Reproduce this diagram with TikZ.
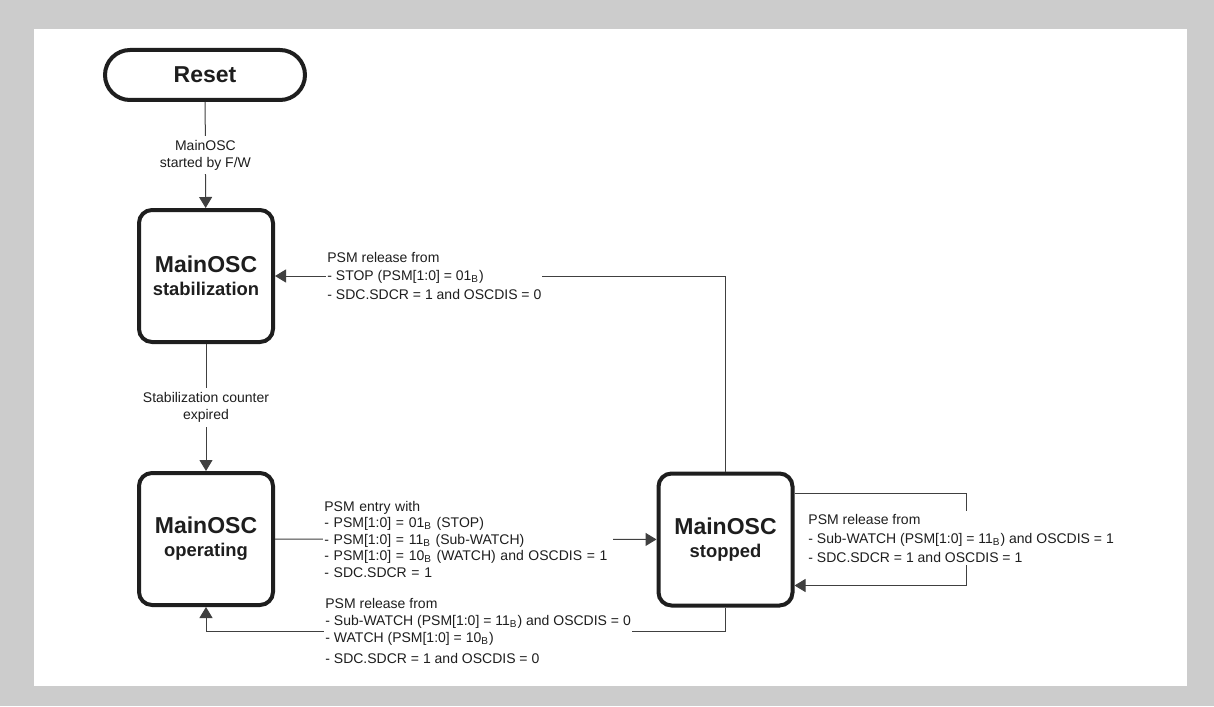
\documentclass[tikz,border=0pt]{standalone}
\usepackage{fontspec}
\setmainfont{Liberation Sans}
\usetikzlibrary{arrows.meta}
\definecolor{bggray}{HTML}{CCCCCC}
\definecolor{ink}{HTML}{1E1E1E}

\begin{document}
\begin{tikzpicture}[x=0.5pt, y=-0.5pt,
    state/.style={draw=ink, line width=2pt, rounded corners=6.5pt, minimum width=67pt,
      minimum height=66pt, align=center, inner sep=0pt, text=ink,
      font=\bfseries\fontsize{9.2}{11.5}\selectfont},
    conn/.style={draw=black!75, line width=0.5pt, -{Triangle[length=5.5pt, width=6.5pt]}},
    cond/.style={fill=white, font=\fontsize{7}{8.5}\selectfont, text=ink, inner xsep=0.5pt,
      inner ysep=1.5pt, align=left, anchor=west},
    mid/.style={fill=white, font=\fontsize{7}{8.5}\selectfont, text=ink, inner xsep=1pt,
      inner ysep=2pt, align=center}]
    % Fonas
    \fill[bggray] (0,0) rectangle (1214,706);
    \fill[white] (34,29) rectangle (1187,686);

    \node[state, rounded corners=12.5pt, minimum width=100pt, minimum height=25pt,
      font=\bfseries\fontsize{11.5}{13}\selectfont] (reset) at (205,75) {Reset};

    \foreach \n/\x/\y/\t in {stab/206/276/stabilization, oper/206/539/operating, stop/725.5/539.5/stopped} {
        \node[state] (\n) at (\x,\y) {{\fontsize{11.5}{13}\selectfont MainOSC}\\\t};
    }

    \draw[conn] (reset) -- (stab) node[mid, midway] {MainOSC\\started by F/W};
    \draw[conn] (stab) -- (oper) node[mid, midway] {Stabilization counter\\expired};

    % Iejimas i PSM
    \draw[conn] (oper) -- (stop);
    \node[cond, font=\fontsize{7}{8.25}\selectfont, text width=144pt] (entry) at (323,539)
        {PSM entry with\\- PSM[1:0] = 01\textsubscript{B} (STOP)\\- PSM[1:0] = 11\textsubscript{B} (Sub-WATCH)\\- PSM[1:0] = 10\textsubscript{B} (WATCH) and OSCDIS = 1\\- SDC.SDCR = 1};

    % Isejimas is PSM
    \draw[conn] (stop.north) |- (stab.east);
    \node[cond, font=\fontsize{7}{9.25}\selectfont] (relstab) at (326,275.5)
        {PSM release from\\- STOP (PSM[1:0] = 01\textsubscript{B})\\- SDC.SDCR = 1 and OSCDIS = 0};

    \draw[conn] (stop.south) -- ++(0,24) -| (oper.south);
    \node[cond] (reloper) at (324,630.5)
        {PSM release from\\- Sub-WATCH (PSM[1:0] = 11\textsubscript{B}) and OSCDIS = 0\\- WATCH (PSM[1:0] = 10\textsubscript{B})\\[2pt]- SDC.SDCR = 1 and OSCDIS = 0};

    \draw[conn] ([yshift=23pt]stop.east) -- ++(172,0) |- ([yshift=-23pt]stop.east);
    \node[cond, font=\fontsize{7}{9.5}\selectfont] (relstop) at (807,538)
        {PSM release from\\- Sub-WATCH (PSM[1:0] = 11\textsubscript{B}) and OSCDIS = 1\\- SDC.SDCR = 1 and OSCDIS = 1};
\end{tikzpicture}
\end{document}
